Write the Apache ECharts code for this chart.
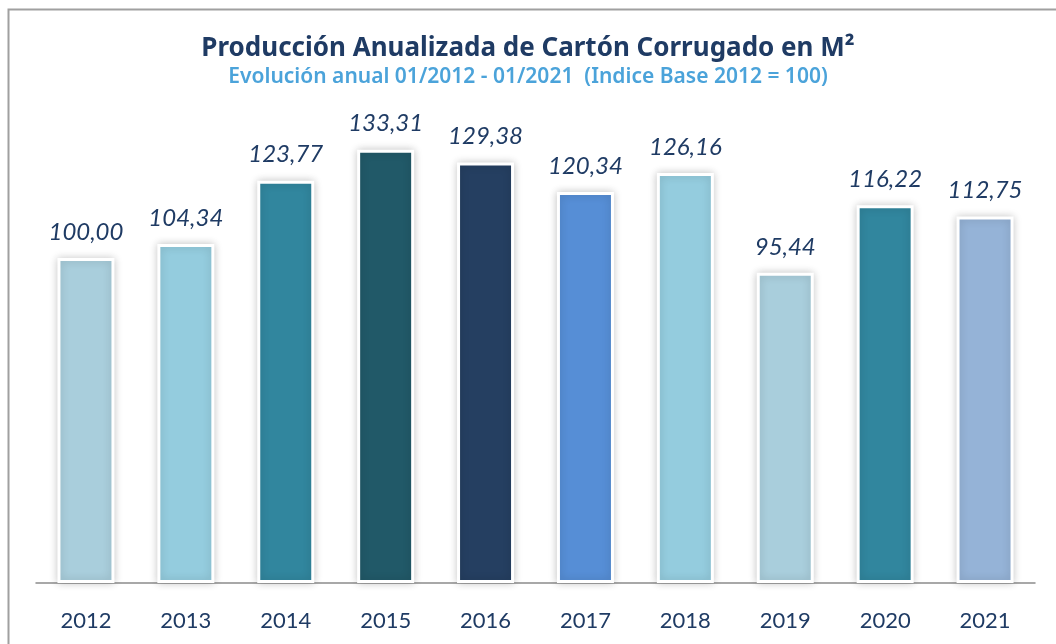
<!DOCTYPE html>
<html style="height: 100%">
<head>
    <meta charset="utf-8">
</head>
<body style="height: 100%; margin: 0; background: #fff">
    <div id="container" style="width: 1056px; height: 644px"></div>
    <script type="text/javascript" src="https://cdn.jsdelivr.net/npm/echarts@6/dist/echarts.min.js"></script>
    <script type="text/javascript">
        var years = ['2012', '2013', '2014', '2015', '2016', '2017', '2018', '2019', '2020', '2021'];
        var indexValues = [100.00, 104.34, 123.77, 133.31, 129.38, 120.34, 126.16, 95.44, 116.22, 112.75];
        var barColors = ['#A9CEDC', '#94CCDE', '#31869E', '#215968', '#253F61',
                         '#568ED6', '#94CCDE', '#A9CEDC', '#31869E', '#95B3D7'];

        var dom = document.getElementById("container");
        var myChart = echarts.init(dom);

        var option = {
            backgroundColor: '#ffffff',
            animation: false,
            title: {
                text: 'Producción Anualizada de Cartón Corrugado en M²',
                subtext: 'Evolución anual 01/2012 - 01/2021  (Indice Base 2012 = 100)',
                left: 'center',
                top: 31,
                itemGap: 5,
                textStyle: {
                    fontFamily: 'Noto Sans',
                    fontWeight: 'bold',
                    fontSize: 26,
                    color: '#1F3B64'
                },
                subtextStyle: {
                    fontFamily: 'Noto Sans',
                    fontWeight: 600,
                    fontSize: 21,
                    color: '#4BA3DA'
                }
            },
            graphic: [{
                type: 'rect',
                left: 6,
                top: 7,
                shape: { width: 1100, height: 700 },
                style: { fill: 'none', stroke: '#A0A0A0', lineWidth: 2 },
                silent: true
            }],
            grid: {
                left: 36,
                right: 21,
                top: 63,
                bottom: 61
            },
            xAxis: {
                type: 'category',
                data: years,
                axisLine: { lineStyle: { color: '#8C8C8C', width: 1.5 } },
                axisTick: { show: false },
                axisLabel: {
                    margin: 27,
                    fontFamily: 'Lato',
                    fontSize: 22,
                    color: '#1F3B64'
                }
            },
            yAxis: {
                type: 'value',
                min: 0,
                max: 160,
                show: false,
                splitLine: { show: false }
            },
            series: [{
                name: 'Indice',
                type: 'bar',
                barWidth: 57,
                data: indexValues.map(function (v, i) {
                    return { value: v, itemStyle: { color: barColors[i] } };
                }),
                itemStyle: {
                    borderColor: '#ffffff',
                    borderWidth: 3,
                    shadowColor: 'rgba(0,0,0,0.2)',
                    shadowBlur: 8
                },
                label: {
                    show: true,
                    position: 'top',
                    distance: 14,
                    fontFamily: 'Lato',
                    fontStyle: 'italic',
                    fontSize: 24,
                    color: '#1F3B64',
                    formatter: function (p) {
                        return p.value.toFixed(2).replace('.', ',');
                    }
                }
            }]
        };

        myChart.setOption(option, true);
    </script>
</body>
</html>
